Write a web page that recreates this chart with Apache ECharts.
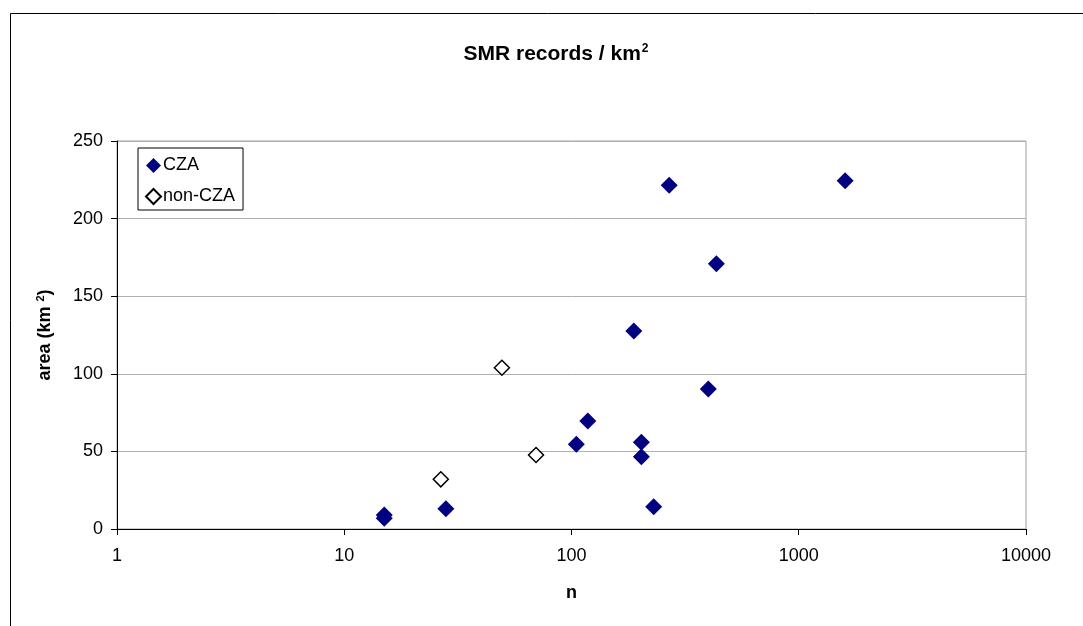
<!DOCTYPE html>
<html>
<head>
<meta charset="utf-8">
<script src="https://cdn.jsdelivr.net/npm/echarts@6/dist/echarts.min.js"></script>
<style>
html,body{margin:0;padding:0;background:#fff;}
#chart{width:1083px;height:626px;}
</style>
</head>
<body>
<div id="chart"></div>
<script>
// Data
const czaN    = [15, 15, 28, 105, 118, 203, 203, 230, 400, 434, 188, 269, 1600];
const czaArea = [9, 7, 13, 54.6, 69.6, 55.9, 46.6, 14.4, 90.2, 170.9, 127.6, 221.5, 224.4];
const nonCzaN    = [49.4, 26.6, 69.8];
const nonCzaArea = [103.9, 32, 47.7];
const xTicks = [1, 10, 100, 1000, 10000];
const yTicks = [0, 50, 100, 150, 200, 250];

const czaData = czaN.map((n, i) => [n, czaArea[i]]);
const nonCzaData = nonCzaN.map((n, i) => [n, nonCzaArea[i]]);

const chart = echarts.init(document.getElementById('chart'));
const font = 'Arial, "Liberation Sans", sans-serif';
chart.setOption({
  animation: false,
  backgroundColor: '#fff',
  title: {
    text: '{t|SMR records / km}{s|2}',
    left: 551, top: 38, textAlign: 'center',
    textStyle: {
      rich: {
        t: {fontFamily: font, fontWeight: 'bold', fontSize: 21, color: '#000'},
        s: {fontFamily: font, fontWeight: 'bold', fontSize: 12, color: '#000', verticalAlign: 'top', padding: [0,0,10,1]}
      }
    }
  },
  graphic: [{
    type: 'rect', silent: true, z: -10,
    shape: {x: 10.5, y: 13.5, width: 1100, height: 650},
    style: {fill: 'none', stroke: '#000', lineWidth: 1}
  }],
  legend: {
    left: 138, top: 148, orient: 'vertical',
    itemWidth: 15, itemHeight: 15, itemGap: 10,
    padding: [7, 8, 3, 7],
    borderColor: '#000', borderWidth: 1, backgroundColor: '#fff',
    textStyle: {fontFamily: font, fontSize: 18, lineHeight: 21, color: '#000', padding: [0,0,0,-3]},
    data: [
      {name: 'CZA', icon: 'diamond'},
      {name: 'non-CZA', icon: 'diamond'}
    ]
  },
  grid: {
    left: 117, right: 57, top: 141, bottom: 97,
    show: true, borderColor: '#a0a0a0', borderWidth: 1
  },
  xAxis: {
    type: 'log', logBase: 10, min: 1, max: 10000,
    name: 'n', nameLocation: 'middle', nameGap: 55,
    nameTextStyle: {fontFamily: font, fontWeight: 'bold', fontSize: 18, color: '#000'},
    axisLine: {lineStyle: {color: '#000', width: 1}},
    axisTick: {show: true, length: 6, lineStyle: {color: '#000'}},
    minorTick: {show: false},
    splitLine: {show: false},
    axisLabel: {fontFamily: font, fontSize: 18, color: '#000', margin: 18,
      formatter: v => xTicks.includes(Math.round(v)) ? String(Math.round(v)) : ''}
  },
  yAxis: {
    type: 'value', min: 0, max: 250, interval: 50,
    name: '{t|area (km }{s|2}{t|)}', nameLocation: 'middle', nameGap: 62, nameRotate: 90,
    nameTextStyle: {
      rich: {
        t: {fontFamily: font, fontWeight: 'bold', fontSize: 18, color: '#000'},
        s: {fontFamily: font, fontWeight: 'bold', fontSize: 11, color: '#000', verticalAlign: 'top', padding: [0,0,9,0]}
      }
    },
    axisLine: {show: true, lineStyle: {color: '#000', width: 1}},
    axisTick: {show: true, length: 6, lineStyle: {color: '#000'}},
    splitLine: {show: true, lineStyle: {color: '#b0b0b0', width: 1}},
    axisLabel: {fontFamily: font, fontSize: 18, color: '#000', margin: 14,
      formatter: v => yTicks.includes(v) ? String(v) : ''}
  },
  series: [
    {
      name: 'CZA', type: 'scatter', symbol: 'diamond', symbolSize: 17,
      itemStyle: {color: '#000080', opacity: 1}, data: czaData, z: 3
    },
    {
      name: 'non-CZA', type: 'scatter', symbol: 'diamond', symbolSize: 15,
      itemStyle: {color: '#fff', borderColor: '#000', borderWidth: 1.5, opacity: 1}, data: nonCzaData, z: 3
    }
  ]
});
</script>
</body>
</html>
